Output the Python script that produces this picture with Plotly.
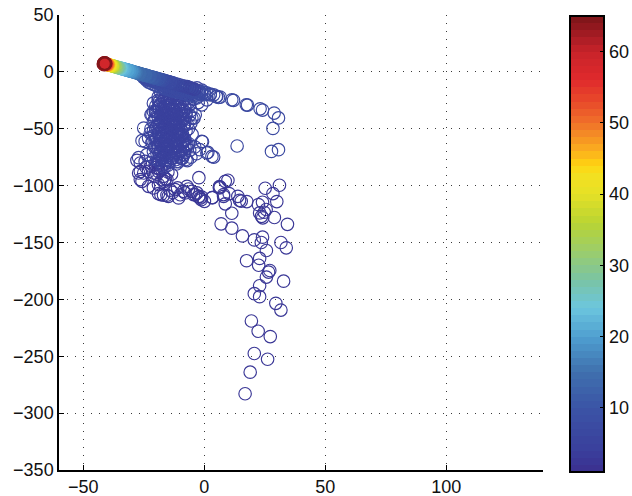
import numpy as np
import plotly.graph_objects as go

# Sparse lower tail and outliers
tail_x = [16.9,19,26.2,20.7,27.3,22.3,19.5,31.7,29.6,22.9,20.7,22.9,32.8,25.7,26.6,27.1,22.5,22.9,17.5,33.9,31.7,25.7,23.6,24.1,20.7,15.8,11.4,7,34.4,29,24.2,23.7,24.8,22.9,25.6,24.1,22.4,11.4,8.7,3.3,17.6,15.3,14.6,13.9,8,10.3,30,28.4,31.1,25.2,6.3,6.6,9.8,-2.2,
          8,8.7,6.3,3.4,0.1,-1.2,-2.1,-3,-4.4,-5.1,-7.1,-7.9,-8.6,-10.6,-12,-14.8,-15.4,-16.8,-17.9,-18.9,-21,-23,-18.9,-25.7,-26.4,-15.4,-16.1,-16.4,-17.5,-16.8,-18.9,-21,-23,-18.9,-25,-27.1,-26.4,-18.9,-20.2,-22.3,-24.4,-26.4,-27.8,-2.3,-1,-1.7,-3.7,-6.5,-9.9,-14,-13,-11,-19.5,-20.5,-24,-22,-20,-17.5,-15,-13.5]
tail_y = [-283,-264,-252.6,-247.6,-232.7,-228,-219,-209.4,-203.5,-197.6,-195,-188,-184,-180.4,-176,-174.6,-170,-164,-166,-154.7,-150,-157,-150,-145.3,-147.7,-144.2,-137.4,-133.6,-134,-128,-128.3,-127,-123.4,-124,-121,-114.6,-116.7,-124.3,-116,-110.5,-114,-113.7,-112.9,-109.4,-109.4,-107,-114,-107,-99.7,-102.3,-100.9,-101.4,-95.3,-93,
          -107.9,-96.2,-102,-110.5,-113.8,-112.3,-109.4,-106.4,-107.9,-105,-100.6,-106.4,-105,-110.8,-103.5,-109.4,-108.5,-108.5,-107.9,-107,-102,-100.6,-99.1,-96.2,-94.7,-94.7,-94.1,-96.2,-94.7,-91.8,-87.5,-88.9,-87.5,-80.1,-88.9,-88.9,-87.5,-85,-81.6,-80.1,-78.7,-80.1,-77.8,-110,-110,-111,-108,-103,-108,-104,-106,-102,-90,-92,-84,-83,-84,-86,-88,-90]
tail_level = 2

# Dense column of the main cloud
body_x = [-27.1,-23.7,-21,-19,-17,-15,-13,-11.5,-9,-7,-5.5,-3.2,-1.9,1.5,
          -25.7,-24.4,-21,-19.5,-17.5,-15.5,-13.5,-12,-10,-8,-6,-3.9,1.1,3.2,3.9,
          -23,-21.5,-20,-18,-16,-14,-12,-10,-8,-6.5,-1,-0.7,
          -22.3,-20.5,-19,-17,-15,-13,-11,-9,-7.1,-5,
          -25,-22,-20,-18.5,-16.5,-14.5,-12.5,-10.5,-8.5,-6.5,
          -21,-19,-17,-15,-13,-11,-9,-7,-5.5,
          -22,-20,-18,-16,-14,-12,-10,-8,-6,-4.2,
          -21,-19.5,-17.5,-15.5,-13.5,-11.5,-9.5,-7.5,-5.5,
          -21.6,-20,-18,-16,-14,-12,-10,-8,-6,-5.1,-3.7,
          -20.2,-18.5,-16.5,-14.5,-12.5,-10.5,-8.5,-6.5,-4.5,-2.5,
          -21,-19,-17,-15,-13,-11,-9,-7,-5,-3,-1,
          -18,-16,-14,-12,-10,-8,-6,-4,-2,
          -17,-15,-13,-11,-9,-7,-5,-3,-1,1.1]
body_y = [-75.4,-72.8,-76,-78,-75,-78,-76,-79,-76,-78,-75,-72,-68.4,-70.8,
          -60.5,-61.1,-70,-68,-71,-67,-70,-66,-69,-66,-69,-66,-71.3,-74.3,-74.9,
          -58.2,-62,-60,-63,-60,-63,-60,-63,-60,-63,-61.1,-61.4,
          -53.8,-56,-54,-57,-54,-57,-54,-57,-64,-55,
          -49.4,-50,-49,-51,-48,-51,-48,-51,-48,-50,
          -44,-46,-43,-46,-43,-46,-43,-46,-45,
          -37.7,-40,-38,-41,-38,-41,-38,-41,-38,-40.6,
          -34.8,-35,-33,-36,-33,-36,-33,-36,-34,
          -37.7,-30,-28,-31,-28,-31,-28,-31,-29,-40.6,-37.7,
          -34.8,-26,-24,-27,-24,-27,-24,-27,-24,-27,
          -27.5,-22,-20,-23,-20,-23,-20,-23,-20,-23,-29,
          -18,-16,-19,-16,-19,-16,-19,-16,-19,
          -14,-13,-15,-13,-15,-13,-15,-14,-16,-24.6]
body_level = 5

# Extra circles packing the core of the column
core_x = [-19,-18,-17,-16,-15,-14,-13,-12,-11,-10,-9,-8,
          -18.5,-17.5,-16.5,-15.5,-14.5,-13.5,-12.5,-11.5,-10.5,-9.5,-8.5,-7.5,
          -19,-18,-17,-16,-15,-14,-13,-12,-11,-10,-9,-8,
          -18.5,-17.5,-16.5,-15.5,-14.5,-13.5,-12.5,-11.5,-10.5,-9.5,-8.5,-7.5,
          -19,-18,-17,-16,-15,-14,-13,-12,-11,-10,-9,-8,
          -18.5,-17.5,-16.5,-15.5,-14.5,-13.5,-12.5,-11.5,-10.5,-9.5,-8.5,-7.5,
          -19,-18,-17,-16,-15,-14,-13,-12,-11,-10,-9,-8,
          -18.5,-17.5,-16.5,-15.5,-14.5,-13.5,-12.5,-11.5,-10.5,-9.5,-8.5,-7.5,
          -20,-19,-18,-17,-16,-15,-14,-13,-12,-11,-10,-9,
          -20.5,-19.5,-18.5,-17.5,-16.5,-15.5,-14.5,-13.5,-12.5,-11.5,-10.5,-9.5,
          -21,-20,-19,-18,-17,-16,-15,-14,-13,-12,-11,-10,
          -21.5,-20.5,-19.5,-18.5,-17.5,-16.5,-15.5,-14.5,-13.5,-12.5,-11.5,-10.5]
core_y = [-25,-29,-26,-30,-25,-29,-26,-30,-25,-29,-26,-30,
          -33,-37,-34,-38,-33,-37,-34,-38,-33,-37,-34,-38,
          -40,-44,-41,-45,-40,-44,-41,-45,-40,-44,-41,-45,
          -47,-51,-48,-52,-47,-51,-48,-52,-47,-51,-48,-52,
          -54,-58,-55,-59,-54,-58,-55,-59,-54,-58,-55,-59,
          -60,-64,-61,-65,-60,-64,-61,-65,-60,-64,-61,-65,
          -66,-70,-67,-71,-66,-70,-67,-71,-66,-70,-67,-71,
          -72,-76,-73,-77,-72,-76,-73,-77,-72,-76,-73,-77,
          -35,-31,-43,-36,-50,-42,-57,-49,-63,-56,-69,-62,
          -42,-48,-55,-62,-68,-74,-79,-32,-38,-44,-50,-56,
          -52,-58,-64,-70,-76,-80,-82,-28,-35,-46,-52,-74,
          -62,-66,-72,-78,-82,-84,-23,-39,-53,-67,-81,-79]
core_level = 4

# Isolated right-hand arc above the tail
arc_x = [30.7,27.8,28.4,30.7,28.9,24.1,23.1,17.9,17.4,12.1,11.4,13.6,6.6,5.2,2.5,5.9,5,3.9,2.5]
arc_y = [-68.4,-69.9,-49.7,-40.5,-36.2,-33.6,-32.5,-29.2,-29,-25,-24.6,-65.2,-22.2,-21.6,-20.2,-22.5,-21.7,-20.2,-19.6]
arc_level = 6

# Coloured head of the trajectory, from cool to hot
head_x = [-4,-5,-6,-7,-8,-9,-10,-11,-12,-13,
          -13.5,-14,-14.5,-15,-15.5,-16,-16.5,-17,-17.5,-18,
          -18.5,-19,-19.5,-20,-20.4,-20.8,-21.2,-21.6,-22,-22.4,
          -22.8,-23.2,-23.6,-24,-24.3,-24.6,-24.9,-25.2,-25.5,-25.8,
          -26.1,-26.4,-26.7,-27,-27.3,-27.6,-27.9,-28.2,-28.5,-28.8,
          -29.1,-29.4,-29.7,-30,-30.2,-30.4,-30.6,-30.8,-31,-31.2,
          -31.4,-31.6,-31.8,-32,-32.2,-32.4,-32.6,-32.8,-33,-33.2,
          -33.4,-33.6,-33.8,-34,-34.3,-34.6,-34.9,-35.2,-35.5,-35.8,
          -36.1,-36.4,-36.7,-37,-37.3,-37.6,-37.9,-38.2,-38.5,-38.8,
          -39.1,-39.4,-39.6,-39.8,-40,-40.2,-40.4,-40.6,-40.8,-41,
          -41.2,-41.4,-41.5,-41.2,-40.9,-40.7,-41,-41.4,-41.7,-41.5,
          -41.1,-40.8]
head_y = [-15.2,-14.5,-13.9,-13.4,-12.6,-12.2,-11.5,-10.9,-10.4,-9.7,
          -9.4,-9.1,-8.8,-8.5,-8.2,-7.9,-7.6,-7.3,-7,-6.7,
          -6.4,-6.2,-5.8,-5.5,-5.3,-5.1,-4.8,-4.6,-4.3,-4.1,
          -3.9,-3.6,-3.3,-3.1,-3,-2.8,-2.6,-2.4,-2.3,-2.1,
          -1.9,-1.7,-1.5,-1.3,-1.2,-1,-0.8,-0.6,-0.5,-0.3,
          -0.1,0.1,0.3,0.5,0.6,0.7,0.8,1,1.1,1.2,
          1.4,1.5,1.6,1.7,1.8,1.9,2.1,2.2,2.3,2.4,
          2.5,2.6,2.8,2.9,3.1,3.2,3.4,3.6,3.8,4,
          4.1,4.3,4.5,4.7,4.9,5,5.2,5.4,5.6,5.8,
          5.9,6.1,6.2,6.4,6.5,6.6,6.8,6.9,7,7.1,
          7.2,7.3,7.7,8,7.7,7.2,6.6,6.3,6.9,7.6,
          7.9,7.4]
head_c = [4,4,4.5,5,5,5.5,5.5,6,6,6.5,
          6.5,7,7,7,7,7.5,7.5,8,8.5,9,
          9.5,10,10,10.5,10.5,11,11,11.5,11.5,12,
          12,12,12.5,12.5,13,13,13,13,13.5,13.5,
          13.5,13.5,14,14,14,14,14.5,15,15.5,16,
          16.5,17,17.5,18,18,18.5,18.5,19,19,19,
          19.5,20,20,20,20,20.5,20.5,21,21,21,
          21.5,22,22,22,23,24,25,26,27,28,
          29,30,31,32,33,35,37,38,39,41,
          42,43,45,47,48,50,52,54,56,58,
          59,60,61,61.5,62,62.5,63,63,63.5,64,
          64.5,65]

# Innermost red spot of the hot cluster
spot_x = [-41.1]
spot_y = [7.1]
spot_c = [58]

# Solid fill under the blue part of the band
band_x = [-26,-25,-24,-23,-22,-21,-20,-19,-18,-17,-16,-15,-14,-13,-12,-11,-10,-9,-8,-7,-6,-5,-4,-3,-2,-1,0,1,
          -25,-24,-23,-22,-21,-20,-19,-18,-17,-16,-15,-14,-13,-12,-11,-10,-9,-8,-7,-6,-5,-4,-3,-2,-1,0,
          -24,-23,-22,-21,-20,-19,-18,-17,-16,-15,-14,-13,-12,-11,-10,-9,-8,-7,-6,-5,-4,-3]
band_y = [-3,-4,-5,-5.5,-6,-7,-7.5,-8,-9,-9,-10,-10.5,-11,-11.5,-12,-12.5,-13,-13.5,-14,-14.5,-15,-15.5,-16,-16.5,-17,-17.5,-18,-18.5,
          -5,-6,-7,-7.5,-8.5,-9,-10,-10.5,-11.5,-12,-12.5,-13,-13.5,-14,-14.5,-15,-15.5,-16,-16.5,-17,-17.5,-18,-18.5,-19,-19.5,-20,
          -7,-9,-10,-11,-12,-13,-13.5,-14,-15,-15.5,-16,-17,-17,-18,-18,-19,-19,-20,-20,-21,-21,-22]
band_level = 7

colour_stops = [(1,"#3b2f8f"),(4,"#3a3f9c"),(10,"#3b54a6"),(15,"#3f70ae"),(20,"#4f9fd0"),(24,"#6cc6de"),(28,"#7ac4a4"),
                (32,"#9ccd6a"),(36,"#b9d433"),(40,"#e6e126"),(43,"#f5e020"),(44,"#ffd50f"),(46,"#fbb01e"),(50,"#f0712a"),
                (53,"#e8492a"),(56,"#e02a2c"),(60,"#c8232a"),(62,"#a81c24"),(65,"#7a1518")]
tick_vals = [10,20,30,40,50,60]
x_ticks = [-50,0,50,100]
y_ticks = [50,0,-50,-100,-150,-200,-250,-300,-350]

lo, hi = 1, 65
levels = 64
sv = [s[0] for s in colour_stops]
rgb = np.array([[int(s[1][i:i+2],16) for i in (1,3,5)] for s in colour_stops], float)
cs = []
for k in range(levels):
    m = lo + (k+.5)*(hi-lo)/levels
    col = [int(round(np.interp(m, sv, rgb[:,j]))) for j in range(3)]
    c = f"rgb({col[0]},{col[1]},{col[2]})"
    cs += [[k/levels, c], [(k+1)/levels, c]]

xs = tail_x+body_x+core_x+arc_x+band_x+head_x
ys = tail_y+body_y+core_y+arc_y+band_y+head_y
cc = [tail_level]*len(tail_x)+[body_level]*len(body_x)+[core_level]*len(core_x)+[arc_level]*len(arc_x)+[band_level]*len(band_x)+head_c

F = "Liberation Sans"
fig = go.Figure(go.Scatter(
    x=xs, y=ys, mode="markers", hoverinfo="skip",
    marker=dict(symbol="circle-open", size=12.5, color=cc, cmin=lo, cmax=hi, colorscale=cs,
                line=dict(width=1.15),
                showscale=True,
                colorbar=dict(thickness=34, thicknessmode="pixels", len=456, lenmode="pixels",
                              x=1.0558, xanchor="left",
                              y=-0.0044, yanchor="bottom",
                              outlinewidth=2, outlinecolor="black", ypad=0, xpad=0,
                              tickmode="array", tickvals=tick_vals, ticks="inside", ticklen=5,
                              tickcolor="black", tickfont=dict(family=F, size=18, color="#111")))))
fig.add_trace(go.Scatter(x=spot_x, y=spot_y, mode="markers", hoverinfo="skip",
                         marker=dict(symbol="circle", size=10, color=spot_c, cmin=lo, cmax=hi,
                                     colorscale=cs, showscale=False)))
grid = dict(showgrid=True, gridcolor="#3a3a3a", gridwidth=1, griddash="1px,7px", zeroline=False,
            showline=True, linecolor="black", linewidth=1.5, ticks="inside", ticklen=5, tickcolor="black",
            tickfont=dict(family=F, size=18, color="#111"), tickmode="array")
fig.update_xaxes(range=[-60,140], tickvals=x_ticks, ticktext=[str(v).replace("-","\u2212") for v in x_ticks], **grid)
fig.update_yaxes(range=[-350,50], tickvals=y_ticks, ticktext=[str(v).replace("-","\u2212") for v in y_ticks], **grid)

# Left-hand inner ticks of the colour bar (plotly only draws the right-hand ones)
bar_left, bar_bottom, bar_frac = 1.0558, -0.0044, 456/455
shapes = []
for v in tick_vals:
    p = bar_bottom + bar_frac*(v-lo)/(hi-lo)
    shapes.append(dict(type="line", xref="paper", yref="paper", x0=bar_left+1/484, x1=bar_left+6/484,
                       y0=p, y1=p, line=dict(color="black", width=1)))
fig.update_layout(width=632, height=496, autosize=False, margin=dict(l=59,r=89,t=15,b=26,autoexpand=False),
                  paper_bgcolor="white", plot_bgcolor="white", showlegend=False, shapes=shapes)
fig.write_html("out.html", post_script="document.body.style.margin='0';", config=dict(displayModeBar=False))
